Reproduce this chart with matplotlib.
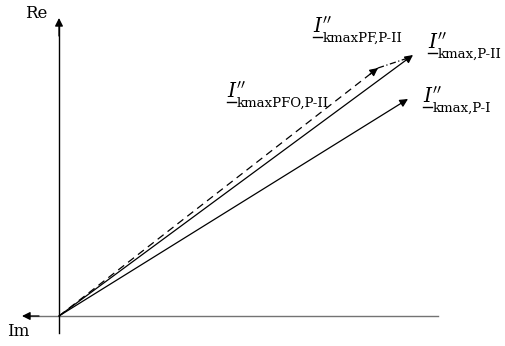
import matplotlib.pyplot as plt
import matplotlib as mpl
mpl.rcParams.update({'font.family': 'DejaVu Serif'})
mpl.rcParams.update({'mathtext.fontset': 'dejavuserif'})

# phasor tips (Im to the right, Re up), origin at 0,0
names = ['P-I', 'P-II', 'PFO']
tip_x = [349, 354, 319]
tip_y = [217, 261, 248]

subs = ['kmax,P-I', 'kmax,P-II', 'kmaxPFO,P-II', 'kmaxPF,P-II']
# label anchor: left of I and baseline of I
lab_x = [364, 369, 168, 254]
lab_y = [213, 267, 218, 283]

fig = plt.figure(figsize=(5.06, 3.46), dpi=100)
ax = fig.add_axes([0, 0, 1, 1])
ax.set_xlim(-59, 447)
ax.set_ylim(-30, 316)
ax.axis('off')

head = dict(arrowstyle='-|>', color='k', lw=0.9, mutation_scale=12,
            shrinkA=0, shrinkB=0)

# axes
ax.plot([-30, 379], [0, 0], color='0.45', lw=1.0)
ax.annotate('', xy=(-37, 0), xytext=(-20, 0), arrowprops=head)
ax.plot([0, 0], [-17, 290], color='k', lw=1.0)
ax.annotate('', xy=(0, 298), xytext=(0, 280), arrowprops=head)
ax.text(-34, 303, 'Re', fontsize=12, ha='left', va='center')
ax.text(-52, -15, 'Im', fontsize=12, ha='left', va='center')

# P-I and P-II
for i in range(2):
    ax.annotate('', xy=(tip_x[i], tip_y[i]), xytext=(0, 0), arrowprops=head)

# PFO dashed
ax.plot([0, tip_x[2]], [0, tip_y[2]], color='k', lw=0.9, ls=(0, (6, 4)))
ax.annotate('', xy=(tip_x[2], tip_y[2]),
            xytext=(tip_x[2] - 8, tip_y[2] - 6.2), arrowprops=head)
# PF dash-dot from PFO tip to P-II tip
ax.plot([tip_x[2], tip_x[1] - 5], [tip_y[2], tip_y[1] - 3], color='k', lw=0.9,
        ls=(0, (5, 2, 1, 2)))

for s, x, y in zip(subs, lab_x, lab_y):
    ax.text(x, y, r'$I^{\prime\prime}$', fontsize=14.5, ha='left', va='baseline')
    ax.text(x + 9.5, y - 9, s, fontsize=9.5, ha='left', va='baseline')
    ax.plot([x, x + 9], [y - 4, y - 4], color='k', lw=1.0)

fig.savefig('out.png', dpi=100)
